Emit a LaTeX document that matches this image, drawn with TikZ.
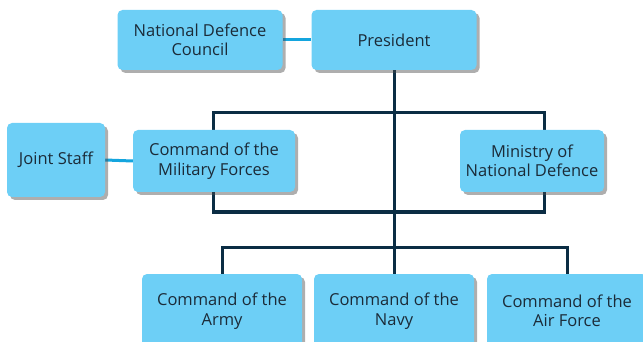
\documentclass[tikz,border=0pt]{standalone}
\usepackage{fontspec}
\setmainfont{Open Sans}
\usetikzlibrary{shadows,backgrounds}
\definecolor{boxblue}{HTML}{6DCFF6}
\definecolor{linkdark}{HTML}{0B2D44}
\definecolor{linklite}{HTML}{14A5DE}
\definecolor{txtdark}{HTML}{1B2B38}

\begin{document}
\begin{tikzpicture}[
x=1pt, y=-1pt,
    B/.style = {rectangle, rounded corners=5pt, fill=boxblue,% boxes of the chart
                text=txtdark, align=center, inner sep=0pt,
                font=\fontsize{16.5}{19.5}\selectfont,
                drop shadow={shadow xshift=3pt, shadow yshift=-3pt,
                             opacity=.45, fill=black!70}},
    D/.style = {draw=linkdark, line width=3pt},% line of command
    L/.style = {draw=linklite, line width=3pt},% advisory link
                        ]
\useasboundingbox (0,0) rectangle (643,342);
% top row
\node[B, minimum width=165pt, minimum height=60pt] (ndc)  at (200,40) {National Defence\\Council};
\node[B, minimum width=165pt, minimum height=60pt] (pres) at (394,40) {President};
% middle row
\node[B, minimum width=98pt,  minimum height=74pt] (js)   at (56,160)  {Joint Staff};
\node[B, minimum width=162pt, minimum height=62pt] (cmf)  at (214,161) {Command of the\\Military Forces};
\node[B, minimum width=144pt, minimum height=62pt] (mnd)  at (532,161) {Ministry of\\National Defence};
% bottom row
\node[B, minimum width=160pt, minimum height=74pt] (army) at (222,311) {Command of the\\Army};
\node[B, minimum width=160pt, minimum height=74pt] (navy) at (394,311) {Command of the\\Navy};
\node[B, minimum width=160pt, minimum height=74pt] (air)  at (567,311) {Command of the\\Air Force};
\coordinate (frame-tr) at (544,113);
\coordinate (frame-br) at (544,212);
\coordinate (bus)      at (394,247);
\begin{scope}[on background layer]
\draw[L] (ndc.east) -- (pres.west);
\draw[L] (js.east)  -- (cmf.west);
\draw[D] (pres.south) -- (navy.north);
\draw[D] ([xshift=-1pt]cmf.north) |- (frame-tr) -- (frame-tr |- mnd.north);
\draw[D] ([xshift=-1pt]cmf.south) |- (frame-br) -- (frame-br |- mnd.south);
\draw[D] (army.north) |- (bus) -| (air.north);
\end{scope}
\end{tikzpicture}
\end{document}
